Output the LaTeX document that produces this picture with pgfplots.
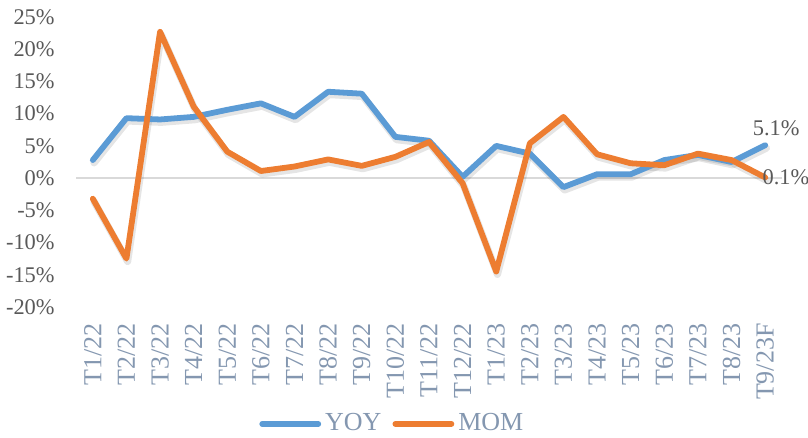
\documentclass[border=0pt]{standalone}
\usepackage{fontspec}
\setmainfont{Liberation Serif}
\usepackage{pgfplots}
\usepackage{pgfplotstable}
\pgfplotsset{compat=1.18}
\usetikzlibrary{calc}

\definecolor{yoy}{HTML}{5B9BD5}
\definecolor{mom}{HTML}{ED7D31}
\definecolor{lbl}{HTML}{8497B0}
\definecolor{tickc}{HTML}{595959}
\definecolor{zeroc}{HTML}{D9D9D9}

\pgfplotstableread{
x yoy mom
0 2.8 -3.2
1 9.3 -12.5
2 9.1 22.7
3 9.5 11.1
4 10.6 4.1
5 11.6 1.1
6 9.5 1.8
7 13.4 2.9
8 13.1 1.9
9 6.4 3.3
10 5.8 5.6
11 0.2 -0.8
12 5.0 -14.5
13 3.8 5.4
14 -1.4 9.5
15 0.6 3.7
16 0.6 2.3
17 2.8 2.0
18 3.6 3.8
19 2.5 2.8
20 5.1 0.1
}\data

\begin{document}
\begin{tikzpicture}
\begin{axis}[
  name=ax,
  width=353pt, height=145pt,
  scale only axis,
  xmin=-0.5, xmax=20.5,
  ymin=-20, ymax=25,
  axis line style={draw=none},
  major tick style={draw=none},
  xtick={0,...,20},
  xticklabels={T1/22,T2/22,T3/22,T4/22,T5/22,T6/22,T7/22,T8/22,T9/22,T10/22,T11/22,T12/22,T1/23,T2/23,T3/23,T4/23,T5/23,T6/23,T7/23,T8/23,T9/23F},
  xticklabel style={font=\fontsize{13}{13}\selectfont, text=lbl, inner sep=0pt, yshift=-8pt, rotate=90, anchor=east},
  ytick={-20,-15,...,25},
  yticklabels={-20\%,-15\%,-10\%,-5\%,0\%,5\%,10\%,15\%,20\%,25\%},
  yticklabel style={font=\fontsize{11.2}{12}\selectfont, text=tickc, inner sep=0pt, xshift=-10.5pt},
  extra y ticks={0},
  extra y tick labels={},
  extra y tick style={grid=major, major grid style={zeroc, line width=0.8pt}},
  legend style={at={(0.4495,-0.403)}, anchor=center, draw=none, fill=none,
    legend columns=-1, font=\fontsize{13}{13}\selectfont, text=lbl,
    /tikz/every even column/.append style={column sep=3.5pt}},
  legend image code/.code={\draw[#1, line cap=round] (0pt,0pt) -- (28pt,0pt);},
  every axis plot/.append style={line width=2.9pt, line join=round, line cap=round},
  clip=false,
]
% soft shadows
\addplot[black, opacity=0.10, line width=3.6pt, xshift=0.6pt, yshift=-1.4pt, forget plot] table[x=x, y=yoy] {\data};
\addplot[black, opacity=0.10, line width=3.6pt, xshift=0.6pt, yshift=-1.4pt, forget plot] table[x=x, y=mom] {\data};
\addplot[yoy, mark=none] table[x=x, y=yoy] {\data};
\addplot[mom, mark=none] table[x=x, y=mom] {\data};
\legend{YOY, MOM}
\node[anchor=south, inner sep=0pt, font=\fontsize{11.2}{12}\selectfont, text=tickc] at ($(axis cs:20,5.1)+(5.5pt,4.5pt)$) {5.1\%};
\node[anchor=west, inner sep=0pt, font=\fontsize{11.2}{12}\selectfont, text=tickc] at ($(axis cs:20,0.1)+(-1.5pt,0pt)$) {0.1\%};
\end{axis}
\pgfresetboundingbox
\path[use as bounding box] ($(ax.south west)+(-38pt,-65.5pt)$) rectangle ($(ax.north east)+(13pt,8.5pt)$);
\end{tikzpicture}
\end{document}
